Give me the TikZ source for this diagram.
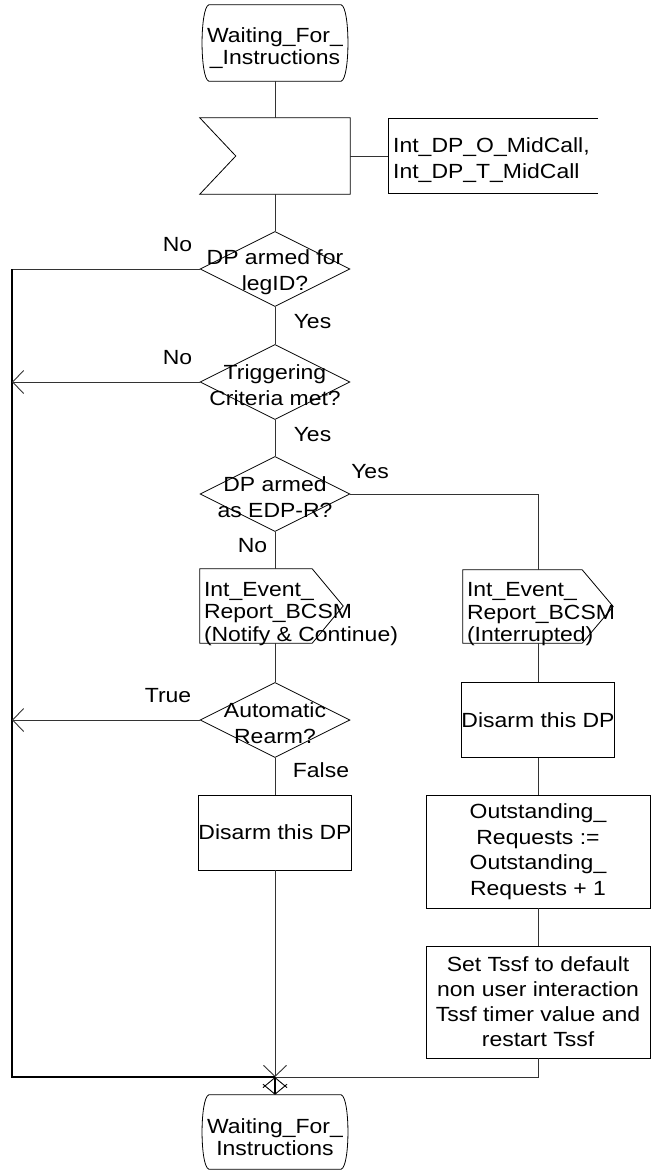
\documentclass[tikz,border=0pt]{standalone}
\usepackage{fontspec}
\setmainfont{Liberation Sans}[FakeStretch=1.12]
\usetikzlibrary{arrows.meta,shapes.geometric}

\tikzset{
  flow/.style={line width=0.9pt, draw=black!80},
  loopline/.style={line width=1.3pt},
  decision/.style={diamond, draw, line width=0.8pt, minimum width=150pt, minimum height=75pt, inner sep=0pt},
  dtext/.style={align=center, inner sep=0pt, yshift=-3pt, font=\fontsize{20.5}{25.5}\selectfont},
  stepbox/.style={rectangle, draw, line width=0.8pt, inner sep=0pt, align=center},
  blank/.style={rectangle, inner sep=0pt},
  ttext/.style={align=center, inner sep=0pt, yshift=-5.5pt, font=\fontsize{20.5}{22}\selectfont},
  otext/.style={anchor=west, align=left, inner sep=0pt, xshift=4pt, yshift=-8pt, font=\fontsize{20.5}{22.5}\selectfont},
}

% outlines drawn round invisible nodes
\newcommand{\termshape}[1]{%
  \draw[line width=0.8pt] ([xshift=7pt]#1.north west) -- ([xshift=-7pt]#1.north east)
    .. controls ([xshift=2pt,yshift=-3pt]#1.north east) and ([xshift=2pt,yshift=3pt]#1.south east) .. ([xshift=-7pt]#1.south east)
    -- ([xshift=7pt]#1.south west)
    .. controls ([xshift=-2pt,yshift=3pt]#1.south west) and ([xshift=-2pt,yshift=-3pt]#1.north west) .. cycle;}
\newcommand{\inshape}[1]{%
  \draw[line width=0.8pt] (#1.north west) -- (#1.north east) -- (#1.south east) -- (#1.south west) -- ([xshift=36pt]#1.west) -- cycle;}
\newcommand{\outshape}[1]{%
  \draw[line width=0.8pt] (#1.north west) -- ([xshift=-31pt]#1.north east) -- (#1.east) -- ([xshift=-31pt]#1.south east) -- (#1.south west) -- cycle;}

\begin{document}
\begin{tikzpicture}[x=1pt,y=-1pt,font=\fontsize{20.5}{25}\selectfont,>={Straight Barb[length=11pt,width=23pt]}]
  \useasboundingbox (0,0) rectangle (651,1171);
  % left column
  \node[blank, minimum width=146pt, minimum height=76pt, label={[ttext]center:Waiting\_For\_\\\_Instructions}] (start) at (275,43) {};
  \termshape{start}
  \node[blank, minimum width=150pt, minimum height=76pt] (sig) at (275,156) {};
  \inshape{sig}
  \coordinate (cmtL) at (388,156);
  \draw[line width=0.8pt] (598,118) -- (388,118) -- (388,193) -- (598,193);
  \node[anchor=west, inner sep=0pt, align=left, font=\fontsize{20.5}{26}\selectfont] (cmt) at (393,160) {Int\_DP\_O\_MidCall,\\Int\_DP\_T\_MidCall};
  \node[decision, label={[dtext]center:DP armed for\\legID?}] (armed) at (275,269) {};
  \node[decision, label={[dtext]center:Triggering\\Criteria met?}] (trig) at (275,382) {};
  \node[decision, label={[dtext]center:DP armed\\as EDP-R?}] (edp) at (275,494) {};
  \node[blank, minimum width=143pt, minimum height=74pt, label={[otext]west:Int\_Event\_\\Report\_BCSM\\(Notify \& Continue)}] (notify) at (271.5,606) {};
  \outshape{notify}
  \node[decision, label={[dtext]center:Automatic\\Rearm?}] (rearm) at (275,720) {};
  \node[stepbox, minimum width=150pt, minimum height=75pt] (disL) at (275,832.5) {Disarm this DP};
  % right column
  \node[blank, minimum width=150pt, minimum height=73pt, label={[otext]west:Int\_Event\_\\Report\_BCSM\\(Interrupted)}] (intr) at (538,606.5) {};
  \outshape{intr}
  \node[stepbox, minimum width=150pt, minimum height=75pt] (disR) at (538,720) {Disarm this DP};
  \node[stepbox, minimum width=224pt, minimum height=113pt, font=\fontsize{20.5}{25.5}\selectfont] (outst) at (538,851.5) {Outstanding\_\\Requests :=\\Outstanding\_\\Requests + 1};
  \node[stepbox, minimum width=224pt, minimum height=112pt] (tssf) at (538,1002) {Set Tssf to default\\non user interaction\\Tssf timer value and\\restart Tssf};
  \node[blank, minimum width=146pt, minimum height=74pt, label={[ttext]center:Waiting\_For\_\\Instructions}] (stop) at (275,1132) {};
  \termshape{stop}
  \coordinate (ltop) at (12,269);
  \coordinate (lbot) at (12,1077);
  \coordinate (junc) at (275,1077);
  % connectors
  \draw[flow] (start) -- (sig);
  \draw[flow] (sig.east) -- (cmtL);
  \draw[flow] (sig) -- (armed);
  \draw[flow] (armed) -- (trig);
  \draw[flow] (trig) -- (edp);
  \draw[flow] (edp.south) -- (edp.south |- notify.north);
  \draw[flow] (edp.south |- notify.south) -- (rearm.north);
  \draw[flow] (rearm) -- (disL);
  \draw[flow,->] (disL) -- (junc);
  \draw[flow] (edp.east) -| (intr.north);
  \draw[flow] (intr) -- (disR);
  \draw[flow] (disR) -- (outst);
  \draw[flow] (outst) -- (tssf);
  \draw[flow] (tssf.south) |- (junc);
  \draw[flow] (armed.west) -- (ltop);
  \draw[loopline] (ltop) -- (lbot) -- (junc);
  \draw[flow,->] (trig.west) -- (trig.west -| ltop);
  \draw[flow,->] (rearm.west) -- (rearm.west -| ltop);
  \draw[line width=1.6pt, {Straight Barb[length=10pt,width=24pt,line width=0.9pt]}-{Straight Barb[length=10pt,width=24pt,line width=0.9pt]}] (junc) -- (stop);
  % branch labels
  \node (no1) at (177.5,244.5) {No};
  \node (yes1) at (312.5,321.3) {Yes};
  \node (no2) at (177.5,357.5) {No};
  \node (yes2) at (312.5,434.6) {Yes};
  \node (yes3) at (370,471.3) {Yes};
  \node (no3) at (252.5,545.5) {No};
  \node (true) at (168,695.5) {True};
  \node (false) at (321,770.5) {False};
\end{tikzpicture}
\end{document}
